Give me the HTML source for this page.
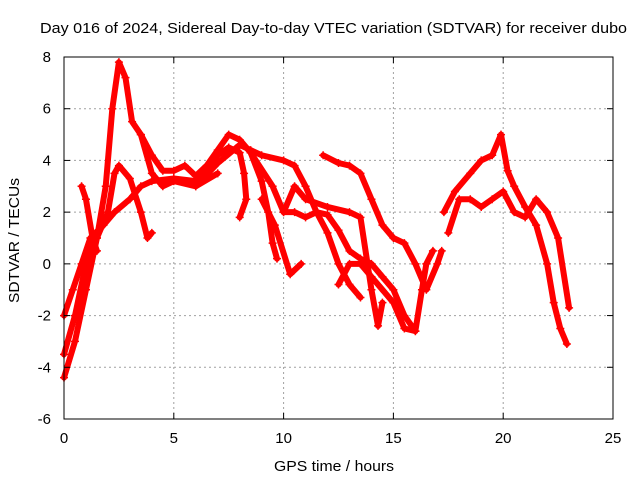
<!DOCTYPE html>
<html><head><meta charset="utf-8"><style>
body{margin:0;background:#fff}
svg text{font-family:"Liberation Sans",sans-serif;font-size:14px;fill:#000}
</style></head><body>
<svg id="chart" width="640" height="480" xmlns="http://www.w3.org/2000/svg">
<text x="40" y="33" textLength="587" lengthAdjust="spacingAndGlyphs" style="font-size:15px">Day 016 of 2024, Sidereal Day-to-day VTEC variation (SDTVAR) for receiver dubo</text>
<g id="grid"></g>
<g id="series"></g>
<rect x="64" y="57" width="549" height="362" fill="none" stroke="#000" stroke-width="1"/>
<g id="ticks"></g>
<text x="274" y="471" textLength="120" lengthAdjust="spacingAndGlyphs" style="font-size:15px">GPS time / hours</text>
<text transform="translate(19,303) rotate(-90)" textLength="125" lengthAdjust="spacingAndGlyphs" style="font-size:15px">SDTVAR / TECUs</text>
</svg>
<script>
const xTicks=[0,5,10,15,20,25];
const yTicks=[-6,-4,-2,0,2,4,6,8];
const track1=[[0,-4.4],[0.5,-3],[1,-1],[1.5,1],[1.9,3],[2.2,6],[2.5,7.8],[2.8,7.2],[3.1,5.5],[3.5,5],[4,4.2],[4.5,3.6],[5,3.6],[5.5,3.8],[6,3.4],[6.5,3.8],[7,4.4],[7.5,5],[8,4.8],[8.5,4.3],[9,3.2],[9.3,2],[9.5,0.8],[9.7,0.2]];
const track2=[[0,-3.5],[0.5,-2],[1,0],[1.5,1],[2,2],[2.3,3.5],[2.5,3.8],[3,3.3],[3.5,2],[3.8,1],[4,1.2]];
const track3=[[0,-2],[0.4,-1],[0.8,0],[1.2,1],[1.8,1.5],[2.3,2],[3,2.5],[3.5,3],[4,3.2],[5,3.3],[6,3.2],[6.5,3.6],[7,4.2],[7.5,4.5],[8,4.3],[8.2,3.5],[8.3,2.5],[8.0,1.8]];
const track4=[[6,3],[7,3.9],[8,4.6],[8.5,4.4],[9,4.2],[10,4],[10.5,3.8],[11,3],[11.5,2],[12,1.2],[12.5,0],[13,-0.8],[13.5,-1.3]];
const track5=[[8.5,4.3],[9.5,3],[10,2],[10.5,2],[11,1.8],[11.5,2],[12,1.9],[12.5,1.3],[13,0.5],[13.5,0.2],[14,0],[14.5,-0.5],[15,-1],[15.5,-2],[16,-2.6],[16.3,-1],[16.5,0],[16.8,0.5]];
const track6=[[11.8,4.2],[12.5,3.9],[13,3.8],[13.5,3.5],[14,2.5],[14.5,1.5],[15,1],[15.5,0.8],[16,0],[16.5,-1],[17,0],[17.2,0.5]];
const track7=[[10,2],[10.5,3],[11,2.5],[12,2.2],[13,2],[13.5,1.8],[14,-1],[14.3,-2.4],[14.5,-1.5]];
const track8=[[9,2.5],[9.6,1.5],[10.3,-0.4],[10.8,0]];
const track9=[[12.5,-0.8],[13,0],[13.5,0],[14,-0.5],[15,-1.5],[15.5,-2.5],[16,-2.6]];
const track10=[[17.3,2],[17.8,2.8],[18.5,3.5],[19,4],[19.5,4.2],[19.9,5],[20.2,3.6],[20.5,3],[21,2.2],[21.5,1.5],[22,0],[22.3,-1.5],[22.6,-2.5],[22.9,-3.1]];
const track11=[[17.5,1.2],[18,2.5],[18.5,2.5],[19,2.2],[19.5,2.5],[20,2.8],[20.5,2],[21,1.8],[21.5,2.5],[22,2],[22.5,1],[23,-1.7]];
const track12=[[0.8,3],[1,2.5],[1.3,1],[1.5,0.5]];
const track13=[[3.5,5],[4,3.5],[4.5,3],[5,3.2],[6,3],[7,3.5]];
const tracks=[track1,track2,track3,track4,track5,track6,track7,track8,track9,track10,track11,track12,track13];
const X0=64,X1=613,Y0=419,Y1=57;
const sx=v=>X0+(v-0)/25*(X1-X0);
const sy=v=>Y0-(v+6)/14*(Y0-Y1);
const NS="http://www.w3.org/2000/svg";
const grid=document.getElementById('grid'),ticks=document.getElementById('ticks'),ser=document.getElementById('series');
function mk(tag,attrs,parent){const e=document.createElementNS(NS,tag);for(const k in attrs)e.setAttribute(k,attrs[k]);parent.appendChild(e);return e;}
xTicks.forEach(t=>{const x=sx(t);
 if(t>0&&t<25){const g=mk('line',{x1:x,x2:x,y1:Y1,y2:Y0,stroke:'#a0a0a0','stroke-dasharray':'2,3'},grid);
 
 }
 mk('line',{x1:x,x2:x,y1:Y0,y2:Y0-6,stroke:'#000'},ticks);mk('line',{x1:x,x2:x,y1:Y1,y2:Y1+6,stroke:'#000'},ticks);
 const tx=mk('text',{x:x,y:Y0+24,'text-anchor':'middle',style:'font-size:15px'},ticks);tx.textContent=t;
 
 });
yTicks.forEach(t=>{const y=sy(t);
 if(t>-6&&t<8){const g=mk('line',{x1:X0,x2:X1,y1:y,y2:y,stroke:'#a0a0a0','stroke-dasharray':'2,3'},grid);
 
 }
 mk('line',{x1:X0,x2:X0+6,y1:y,y2:y,stroke:'#000'},ticks);mk('line',{x1:X1,x2:X1-6,y1:y,y2:y,stroke:'#000'},ticks);
 const tx=mk('text',{x:X0-13,y:y+5,'text-anchor':'end',style:'font-size:15px'},ticks);tx.textContent=t;
 
 });
tracks.forEach((tr,i)=>{
 const p=mk('polyline',{points:tr.map(d=>sx(d[0])+','+sy(d[1])).join(' '),fill:'none',stroke:'#ff0000','stroke-width':6,'stroke-linejoin':'round','stroke-linecap':'round'},ser);
 
 
 tr.forEach(d=>{const x=sx(d[0]),y=sy(d[1]);
  const m=mk('path',{d:`M${x-4},${y}H${x+4}M${x},${y-4}V${y+4}`,stroke:'#ff0000','stroke-width':1.5},ser);
  
  });
});
</script>
</body></html>
